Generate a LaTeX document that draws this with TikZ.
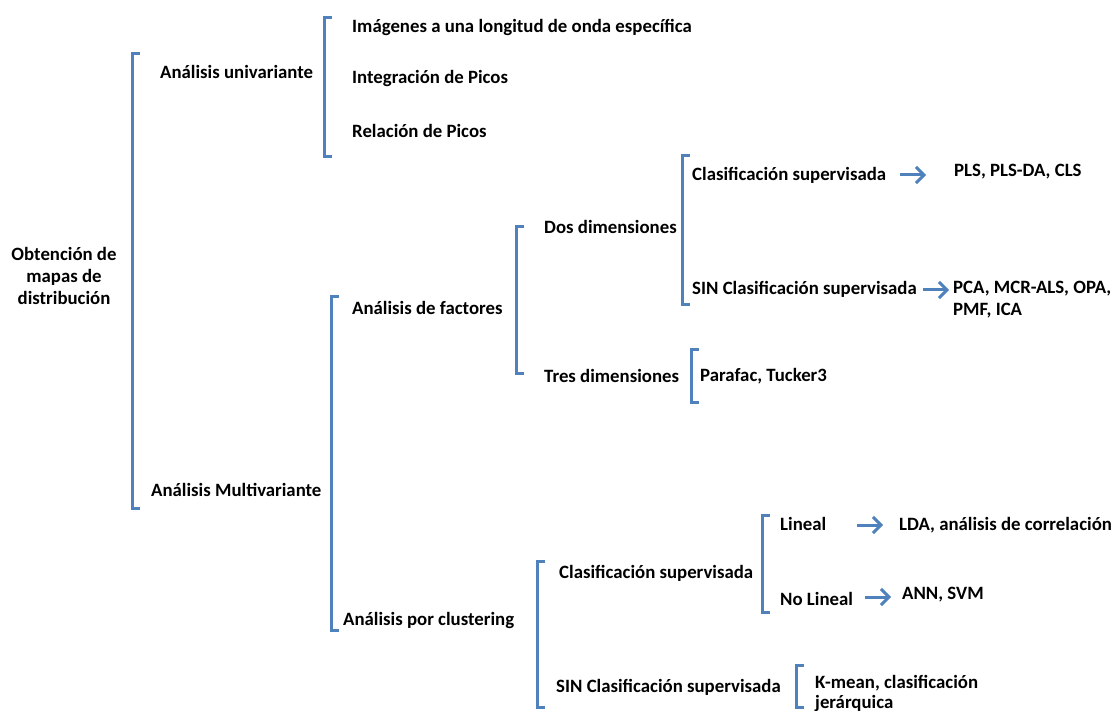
\documentclass[tikz,border=0pt]{standalone}
\usepackage{fontspec}
\setmainfont{Carlito}
\usetikzlibrary{arrows.meta}
\definecolor{brk}{RGB}{79,129,189}
\tikzset{
  lbl/.style={anchor=west,inner sep=0pt,font=\bfseries\fontsize{18.8}{22}\selectfont,text=black},
  brack/.style={draw=brk,line width=3pt,line cap=butt,line join=miter},
  arr/.style={draw=brk,line width=3pt,-{Straight Barb[length=8pt,width=16pt]}},
}
\newcommand{\brkt}[3]{\draw[brack] (#1+8,#2) -- (#1,#2) -- (#1,#3) -- (#1+8,#3);}
\begin{document}
\begin{tikzpicture}[x=1pt,y=-1pt]
\useasboundingbox (0,0) rectangle (1117,711);
% brackets
\brkt{132}{54}{508}
\brkt{324}{18}{157}
\brkt{331}{297}{630}
\brkt{516}{227}{374}
\brkt{682}{156}{305}
\brkt{691}{350}{402}
\brkt{537}{561}{707}
\brkt{762}{515}{612}
\brkt{796}{665}{707}
% texts
\node[lbl,anchor=center,align=center] (root) at (64,276) {Obtención de\\mapas de\\distribución};
\node[lbl] (uni) at (160,72) {Análisis univariante};
\node[lbl] (img) at (352,27) {Imágenes a una longitud de onda específica};
\node[lbl] (int) at (352,79) {Integración de Picos};
\node[lbl] (rel) at (352,131) {Relación de Picos};
\node[lbl] (multi) at (151,490) {Análisis Multivariante};
\node[lbl] (fac) at (352,308) {Análisis de factores};
\node[lbl] (clu) at (343,620) {Análisis por clustering};
\node[lbl] (dos) at (544,227) {Dos dimensiones};
\node[lbl] (tres) at (544,376) {Tres dimensiones};
\node[lbl] (cs1) at (692,175) {Clasificación supervisada};
\node[lbl] (sin1) at (692,289) {SIN Clasificación supervisada};
\node[lbl] (pls) at (954,172) {PLS, PLS-DA, CLS};
\node[lbl,align=left] (pca) at (953,300) {PCA, MCR-ALS, OPA,\\PMF, ICA};
\node[lbl] (par) at (700,376) {Parafac, Tucker3};
\node[lbl] (cs2) at (559,573) {Clasificación supervisada};
\node[lbl] (sin2) at (556,687) {SIN Clasificación supervisada};
\node[lbl] (lin) at (780,524) {Lineal};
\node[lbl] (nolin) at (780,599) {No Lineal};
\node[lbl] (lda) at (899,525) {LDA, análisis de correlación};
\node[lbl] (ann) at (902,595) {ANN, SVM};
\node[lbl,align=left,font=\bfseries\fontsize{18.8}{20}\selectfont] (km) at (815,693) {K-mean, clasificación\\jerárquica};
% arrows
\coordinate (a1s) at (900,175); \coordinate (a1e) at (926,175);
\coordinate (a2s) at (923,290); \coordinate (a2e) at (949,290);
\coordinate (a3s) at (857,525); \coordinate (a3e) at (883,525);
\coordinate (a4s) at (865,597); \coordinate (a4e) at (891,597);
\draw[arr] (a1s) -- (a1e);
\draw[arr] (a2s) -- (a2e);
\draw[arr] (a3s) -- (a3e);
\draw[arr] (a4s) -- (a4e);
\end{tikzpicture}
\end{document}
